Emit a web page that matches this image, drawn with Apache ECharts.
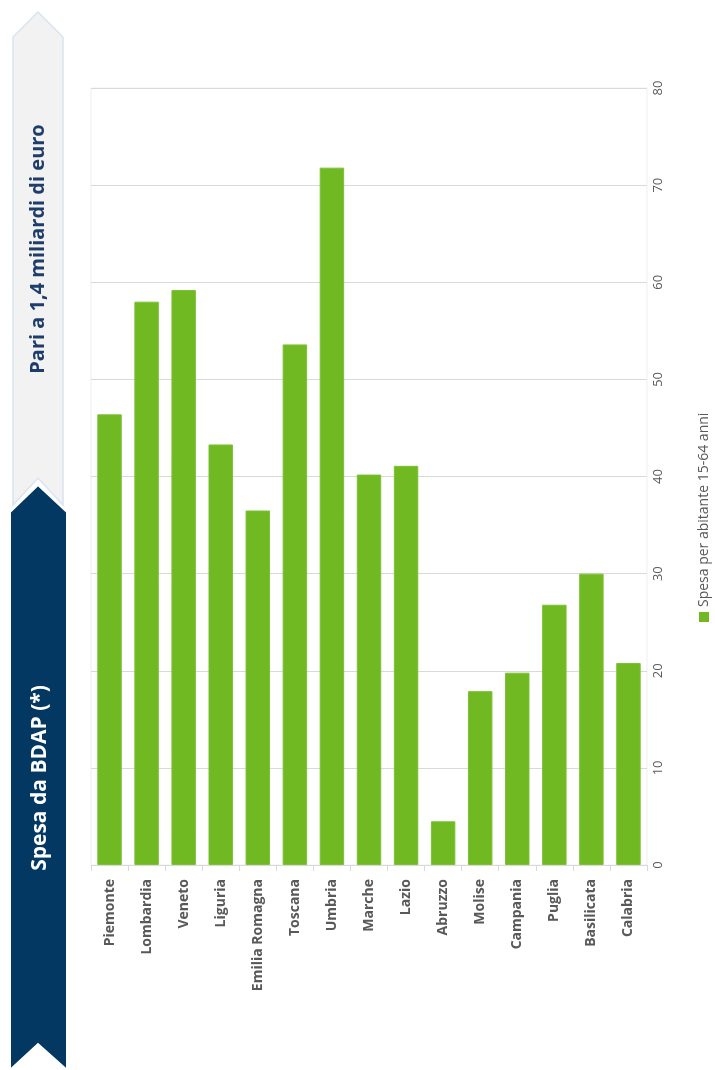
<!DOCTYPE html>
<html>
<head>
<meta charset="utf-8">
<script src="https://cdn.jsdelivr.net/npm/echarts@6/dist/echarts.min.js"></script>
<style>
  html, body { margin: 0; padding: 0; background: #fff; }
  #chart { width: 715px; height: 1070px; }
</style>
</head>
<body>
<div id="chart"></div>
<script>
// regioni e spesa per abitante 15-64 anni (euro)
const regions = ['Piemonte', 'Lombardia', 'Veneto', 'Liguria', 'Emilia Romagna', 'Toscana', 'Umbria',
  'Marche', 'Lazio', 'Abruzzo', 'Molise', 'Campania', 'Puglia', 'Basilicata', 'Calabria']
const spesa = [46.4, 58.0, 59.2, 43.3, 36.5, 53.6, 71.8, 40.2, 41.1, 4.5, 17.9, 19.8, 26.8, 30.0, 20.8]
const valueTicks = [0, 10, 20, 30, 40, 50, 60, 70, 80]
const seriesName = 'Spesa per abitante 15-64 anni'
const bannerTop = 'Pari a 1,4 miliardi di euro'
const bannerBottom = 'Spesa da BDAP (*)'

const font = '"Open Sans", Lato, sans-serif'
const green = '#70b922'
const grey = '#595959'

const chart = echarts.init(document.getElementById('chart'))

chart.setOption({
  animation: false,
  grid: { left: 91, right: 68, top: 88, bottom: 205, show: true, borderColor: '#efefef', borderWidth: 1 },
  xAxis: {
    type: 'category',
    data: regions,
    axisLine: { lineStyle: { color: '#d9d9d9' } },
    axisTick: { show: true, length: 6, lineStyle: { color: '#d9d9d9' } },
    axisLabel: { rotate: 90, color: grey, fontFamily: font, fontSize: 14, fontWeight: 'bold', margin: 14 },
  },
  yAxis: {
    type: 'value',
    position: 'right',
    min: valueTicks[0],
    max: valueTicks[valueTicks.length - 1],
    interval: 10,
    axisLine: { show: false },
    axisTick: { show: false },
    axisLabel: { rotate: 90, color: grey, fontFamily: font, fontSize: 13, margin: 5 },
    splitLine: { lineStyle: { color: '#d9d9d9' } },
  },
  series: [
    {
      name: seriesName,
      type: 'bar',
      data: spesa,
      barCategoryGap: '34%',
      itemStyle: { color: green, borderColor: '#7cc234', borderWidth: 1 },
    },
  ],
  graphic: [
    {
      type: 'polygon',
      shape: { points: [[13, 37], [38, 12], [63, 37], [63, 505], [38, 478], [13, 505]] },
      style: { fill: '#f2f2f2', stroke: '#dae3f1', lineWidth: 1.5 },
    },
    {
      type: 'polygon',
      shape: { points: [[10, 512], [38, 485], [67, 512], [67, 1070], [38, 1044], [10, 1070]] },
      style: { fill: '#033862', stroke: '#ffffff', lineWidth: 2 },
    },
    {
      type: 'text',
      x: 38, y: 249, rotation: Math.PI / 2,
      style: {
        text: bannerTop, fill: '#1f3d6b', font: 'bold 20px ' + font,
        align: 'center', verticalAlign: 'middle',
      },
    },
    {
      type: 'text',
      x: 40, y: 778, rotation: Math.PI / 2,
      style: {
        text: bannerBottom, fill: '#ffffff', font: 'bold 21px ' + font,
        align: 'center', verticalAlign: 'middle',
      },
    },
    {
      type: 'rect',
      shape: { x: 699, y: 612, width: 10, height: 10 },
      style: { fill: green },
    },
    {
      type: 'text',
      x: 704, y: 607, rotation: Math.PI / 2,
      style: {
        text: seriesName, fill: grey, font: '14px ' + font,
        align: 'left', verticalAlign: 'middle',
      },
    },
  ],
})
</script>
</body>
</html>
